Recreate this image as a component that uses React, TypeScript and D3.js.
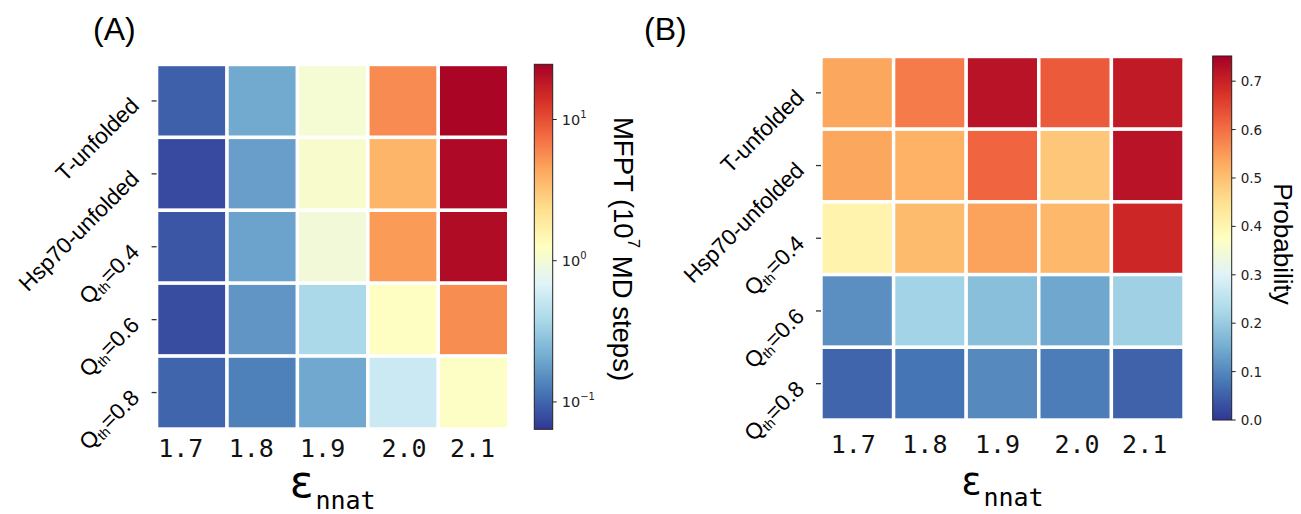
import React from 'react';
import * as d3 from 'd3';

// ---------- data ----------
const epsLabels = ['1.7', '1.8', '1.9', '2.0', '2.1'];
const rowNames = ['T-unfolded', 'Hsp70-unfolded', 'Q_th=0.4', 'Q_th=0.6', 'Q_th=0.8'];

// Panel A: MFPT (10^7 MD steps)
const mfptTUnfolded = [0.095, 0.204, 1.03, 5.7, 23];
const mfptHsp70Unfolded = [0.077, 0.18, 1.1, 3.75, 22];
const mfptQ04 = [0.087, 0.19, 0.955, 4.9, 21.3];
const mfptQ06 = [0.079, 0.163, 0.38, 1.22, 5.6];
const mfptQ08 = [0.1, 0.13, 0.2, 0.545, 1.18];
const mfptDomain = [0.064, 24.6];
const mfptTicks = [0.1, 1, 10];
const mfptTickExp = ['\u22121', '0', '1'];

// Panel B: Probability
const probTUnfolded = [0.534, 0.585, 0.723, 0.625, 0.711];
const probHsp70Unfolded = [0.535, 0.52, 0.611, 0.49, 0.723];
const probQ04 = [0.405, 0.507, 0.539, 0.511, 0.693];
const probQ06 = [0.11, 0.215, 0.181, 0.143, 0.21];
const probQ08 = [0.056, 0.075, 0.102, 0.086, 0.053];
const probDomain = [0, 0.752];
const probTicks = [0, 0.1, 0.2, 0.3, 0.4, 0.5, 0.6, 0.7];

const mfptRows = [mfptTUnfolded, mfptHsp70Unfolded, mfptQ04, mfptQ06, mfptQ08];
const probRows = [probTUnfolded, probHsp70Unfolded, probQ04, probQ06, probQ08];

// matplotlib RdYlBu_r stops
const RDYLBU_R = ['#313695', '#4575b4', '#74add1', '#abd9e9', '#e0f3f8', '#ffffbf', '#fee090', '#fdae61', '#f46d43', '#d73027', '#a50026'];
const cmap = d3
  .scaleLinear<string>()
  .domain(d3.range(11).map((i) => i / 10))
  .range(RDYLBU_R)
  .interpolate(d3.interpolateRgb)
  .clamp(true);

const SANS = '"Liberation Sans", Arial, sans-serif';
const DJV = '"DejaVu Sans", sans-serif';
const MONO = '"DejaVu Sans Mono", monospace';

function RowLabel({ name, x, y }: { name: string; x: number; y: number }) {
  const tr = `translate(${x},${y}) rotate(-45)`;
  if (name.startsWith('Q_th')) {
    const rest = name.slice(4);
    return (
      <text transform={tr} textAnchor="end" dominantBaseline="central" fontFamily={SANS} fontSize={22.5} fill="#000">
        <tspan>Q</tspan>
        <tspan fontSize={14} dy={6}>th</tspan>
        <tspan dy={-6}>{rest}</tspan>
      </text>
    );
  }
  return (
    <text transform={tr} textAnchor="end" dominantBaseline="central" fontFamily={SANS} fontSize={22.5} fill="#000">
      {name}
    </text>
  );
}

interface PanelProps {
  left: number;
  right: number;
  top: number;
  bottom: number;
  rows: number[][];
  norm: (v: number) => number;
  tickDx: number[];
  tickBaseline: number;
  labelAnchorX: number;
  epsSize: number;
  epsBaseline: number;
  subBaseline: number;
  title: string;
  titleX: number;
}

function Panel(p: PanelProps) {
  const xs = d3.scaleBand<string>().domain(epsLabels).range([p.left, p.right]).padding(0);
  const ys = d3.scaleBand<string>().domain(rowNames).range([p.top, p.bottom]).padding(0);
  const cx = (p.left + p.right) / 2;
  return (
    <g>
      <text x={p.titleX} y={40} fontFamily={SANS} fontSize={32} fill="#000">
        {p.title}
      </text>
      {p.rows.map((row, ri) =>
        row.map((v, ci) => (
          <rect
            key={`${ri}-${ci}`}
            x={xs(epsLabels[ci])!}
            y={ys(rowNames[ri])!}
            width={xs.bandwidth()}
            height={ys.bandwidth()}
            fill={cmap(p.norm(v))}
            stroke="#fff"
            strokeWidth={3.4}
          />
        ))
      )}
      {rowNames.map((n) => {
        const y = ys(n)! + ys.bandwidth() / 2;
        return (
          <g key={n}>
            <line x1={p.left - 5} x2={p.left} y1={y} y2={y} stroke="#333" strokeWidth={1.3} />
            <RowLabel name={n} x={p.labelAnchorX} y={y + 1} />
          </g>
        );
      })}
      {epsLabels.map((l, i) => (
        <text
          key={l}
          x={xs(l)! + xs.bandwidth() / 2 + p.tickDx[i]}
          y={p.tickBaseline}
          textAnchor="middle"
          fontFamily={MONO}
          fontSize={25}
          fill="#111"
        >
          {l}
        </text>
      ))}
      <text x={cx} y={p.epsBaseline} textAnchor="middle" fill="#000">
        <tspan fontFamily={DJV} fontSize={p.epsSize}>ε</tspan>
        <tspan fontFamily={MONO} fontSize={25} dy={p.subBaseline - p.epsBaseline} dx={2}>
          nnat
        </tspan>
      </text>
    </g>
  );
}

function Colorbar({
  id,
  x,
  w,
  top,
  bottom,
}: {
  id: string;
  x: number;
  w: number;
  top: number;
  bottom: number;
}) {
  return (
    <g>
      <defs>
        <linearGradient id={id} x1="0" y1="1" x2="0" y2="0">
          {RDYLBU_R.map((c, i) => (
            <stop key={i} offset={`${i * 10}%`} stopColor={c} />
          ))}
        </linearGradient>
      </defs>
      <rect x={x} y={top} width={w} height={bottom - top} fill={`url(#${id})`} stroke="#222" strokeWidth={1} />
    </g>
  );
}

export default function App() {
  // Panel A geometry
  const aL = 156.6, aR = 508.7, aT = 64.5, aB = 429;
  const cbAx = 534.3, cbAw = 18.4, cbAt = 64.3, cbAb = 429.3;
  // Panel B geometry
  const bL = 821, bR = 1184, bT = 56.5, bB = 420;
  const cbBx = 1212.7, cbBw = 19, cbBt = 56, cbBb = 420;

  const normA = d3.scaleLog().domain(mfptDomain).range([0, 1]);
  const normB = d3.scaleLinear().domain(probDomain).range([0, 1]);
  const cbAscale = d3.scaleLog().domain(mfptDomain).range([cbAb, cbAt]);
  const cbBscale = d3.scaleLinear().domain(probDomain).range([cbBb, cbBt]);
  const fmt = d3.format('.1f');

  return (
    <svg
      width={1301}
      height={514}
      style={{ position: 'absolute', left: 0, top: 0, background: '#fff' }}
    >
      <rect x={0} y={0} width={1301} height={514} fill="#fff" />
      <Panel
        left={aL}
        right={aR}
        top={aT}
        bottom={aB}
        rows={mfptRows}
        norm={(v) => normA(v)}
        tickDx={[-11, -11, -10, 1, -1]}
        tickBaseline={457}
        labelAnchorX={135}
        epsSize={44}
        epsBaseline={497}
        subBaseline={509}
        title="(A)"
        titleX={93}
      />
      <Colorbar id="cbA" x={cbAx} w={cbAw} top={cbAt} bottom={cbAb} />
      {mfptTicks.map((t, i) => {
        const y = cbAscale(t);
        return (
          <g key={t}>
            <line x1={cbAx + cbAw} x2={cbAx + cbAw + 4} y1={y} y2={y} stroke="#222" strokeWidth={1} />
            <text x={cbAx + cbAw + 9} y={y} dominantBaseline="central" fontFamily={DJV} fontSize={14.5} fill="#222">
              10
              <tspan fontSize={10} dy={-6}>{mfptTickExp[i]}</tspan>
            </text>
          </g>
        );
      })}
      <text
        transform={`translate(623,249) rotate(90)`}
        textAnchor="middle"
        dominantBaseline="central"
        fontFamily={SANS}
        fontSize={27.5}
        fill="#000"
      >
        MFPT (10
        <tspan fontSize={17} dy={-11}>7</tspan>
        <tspan dy={11}> MD steps)</tspan>
      </text>

      <Panel
        left={bL}
        right={bR}
        top={bT}
        bottom={bB}
        rows={probRows}
        norm={(v) => normB(v)}
        tickDx={[-4, -5, -5, 2, -3]}
        tickBaseline={453}
        labelAnchorX={800}
        epsSize={37}
        epsBaseline={494}
        subBaseline={506}
        title="(B)"
        titleX={644}
      />
      <Colorbar id="cbB" x={cbBx} w={cbBw} top={cbBt} bottom={cbBb} />
      {probTicks.map((t) => {
        const y = cbBscale(t);
        return (
          <g key={t}>
            <line x1={cbBx + cbBw} x2={cbBx + cbBw + 4} y1={y} y2={y} stroke="#222" strokeWidth={1} />
            <text x={cbBx + cbBw + 9} y={y} dominantBaseline="central" fontFamily={DJV} fontSize={13.5} fill="#222">
              {fmt(t)}
            </text>
          </g>
        );
      })}
      <text
        transform={`translate(1282.5,244) rotate(90)`}
        textAnchor="middle"
        dominantBaseline="central"
        fontFamily={SANS}
        fontSize={26}
        fill="#000"
      >
        Probability
      </text>
    </svg>
  );
}
